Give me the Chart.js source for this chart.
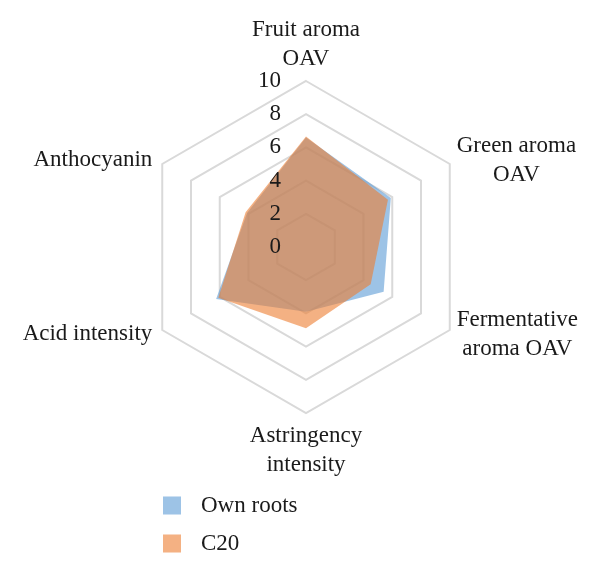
<!DOCTYPE html>
<html>
<head>
<meta charset="utf-8">
<script src="https://cdn.jsdelivr.net/npm/chart.js@4"></script>
<style>
    html, body { margin: 0; padding: 0; background: #ffffff; }
    #radarChart { display: block; }
</style>
</head>
<body>
<canvas id="radarChart" width="600" height="573"></canvas>
<script>
const categories = [
    ['Fruit aroma', 'OAV'],
    ['Green aroma', 'OAV'],
    ['Fermentative', 'aroma OAV'],
    ['Astringency', 'intensity'],
    'Acid intensity',
    'Anthocyanin'
];
const ownRoots = [6.6, 5.9, 5.4, 3.9, 6.25, 4.1];
const c20 = [6.65, 5.7, 4.5, 4.9, 6.1, 4.2];
const tickValues = [0, 2, 4, 6, 8, 10];

const textFont = '23px "Liberation Serif", "Times New Roman", serif';
const textColor = '#1a1a1a';
const lineHeight = 29;

// tick labels, axis labels and the legend are drawn by hand to match the Excel layout
const labelsPlugin = {
    id: 'excelLabels',
    afterDraw(chart) {
        const scale = chart.scales.r;
        const ctx = chart.ctx;
        ctx.save();
        ctx.font = textFont;
        ctx.fillStyle = textColor;

        ctx.textAlign = 'right';
        ctx.textBaseline = 'middle';
        tickValues.forEach(v => {
            const y = scale.yCenter - scale.getDistanceFromCenterForValue(v);
            ctx.fillText(String(v), scale.xCenter - 25, y);
        });

        chart.data.labels.forEach((label, i) => {
            const lines = Array.isArray(label) ? label : [label];
            const p = scale.getPointPosition(i, scale.drawingArea + 8);
            const w = Math.max(...lines.map(l => ctx.measureText(l).width));
            const h = lines.length * lineHeight;
            const dx = p.x - scale.xCenter;
            let cx, top;
            if (Math.abs(dx) < 1) {
                cx = p.x;
                top = p.y < scale.yCenter ? p.y - h : p.y;
            } else {
                cx = dx > 0 ? p.x + w / 2 : p.x - w / 2 - 3;
                top = p.y - h / 2;
            }
            ctx.textAlign = 'center';
            lines.forEach((l, k) => ctx.fillText(l, cx, top + lineHeight * (k + 0.5)));
        });

        ctx.textAlign = 'left';
        chart.data.datasets.forEach((ds, i) => {
            const y = 505.5 + i * 38;
            ctx.fillStyle = ds.backgroundColor;
            ctx.fillRect(163, y - 9, 18, 18);
            ctx.fillStyle = textColor;
            ctx.fillText(ds.label, 201, y);
        });
        ctx.restore();
    }
};

document.addEventListener('DOMContentLoaded', () => {
    const ctx = document.getElementById('radarChart');

    new Chart(ctx, {
        type: 'radar',
        data: {
            labels: categories,
            datasets: [{
                label: 'Own roots',
                data: ownRoots,
                backgroundColor: 'rgba(91, 155, 213, 0.6)',
                borderWidth: 0,
                pointRadius: 0,
                fill: true,
                order: 1
            }, {
                label: 'C20',
                data: c20,
                backgroundColor: 'rgba(237, 125, 49, 0.6)',
                borderWidth: 0,
                pointRadius: 0,
                fill: true,
                order: 0
            }]
        },
        options: {
            responsive: false,
            animation: false,
            layout: {
                padding: { left: 140, right: 128, top: 81, bottom: 160 }
            },
            plugins: {
                legend: { display: false },
                tooltip: { enabled: false }
            },
            scales: {
                r: {
                    min: 0,
                    max: 10,
                    ticks: { stepSize: 2, display: false },
                    grid: { color: '#d9d9d9', lineWidth: 2 },
                    angleLines: { display: false },
                    pointLabels: { display: false }
                }
            }
        },
        plugins: [labelsPlugin]
    });
});
</script>
</body>
</html>
